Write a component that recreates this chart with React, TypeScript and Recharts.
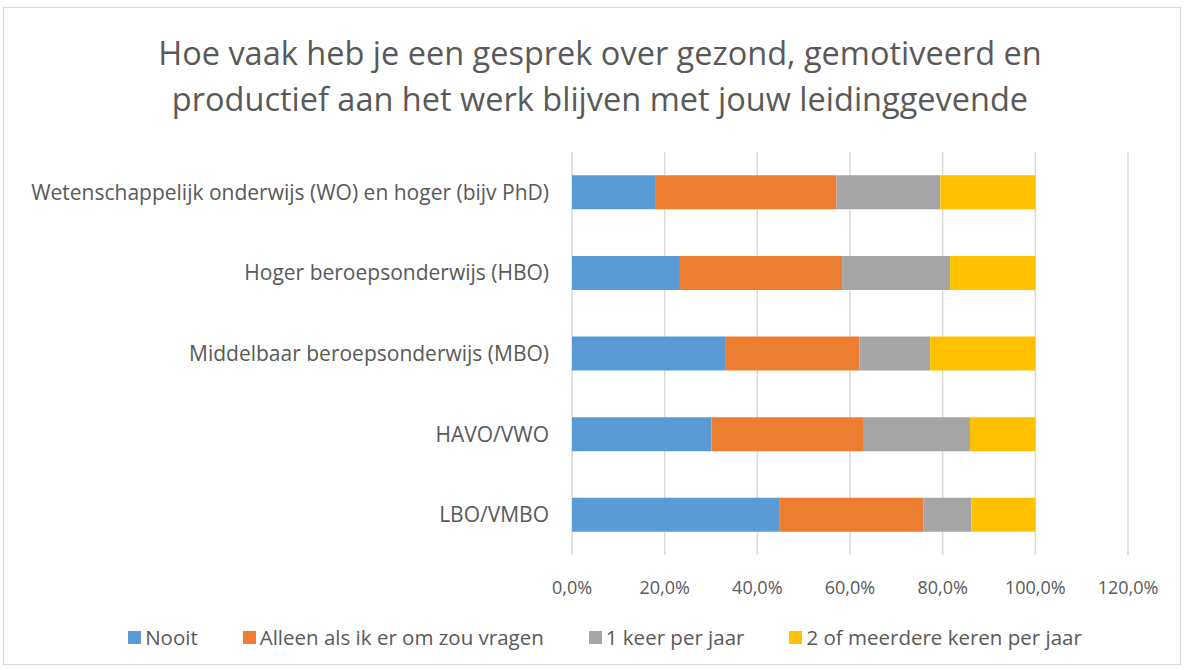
import { BarChart, Bar, XAxis, YAxis, CartesianGrid } from "recharts"

const CATEGORIES = [
  "Wetenschappelijk onderwijs (WO) en hoger (bijv PhD)",
  "Hoger beroepsonderwijs (HBO)",
  "Middelbaar beroepsonderwijs (MBO)",
  "HAVO/VWO",
  "LBO/VMBO",
]

const NOOIT = [0.181, 0.233, 0.332, 0.301, 0.447]
const ALLEEN = [0.39, 0.35, 0.288, 0.327, 0.311]
const KEER1 = [0.224, 0.233, 0.153, 0.231, 0.104]
const KEER2 = [0.205, 0.184, 0.227, 0.141, 0.138]

const X_TICKS = [0, 0.2, 0.4, 0.6, 0.8, 1.0, 1.2]

const SERIES = [
  { key: "nooit", name: "Nooit", values: NOOIT, color: "#5B9BD5" },
  { key: "alleen", name: "Alleen als ik er om zou vragen", values: ALLEEN, color: "#ED7D31" },
  { key: "keer1", name: "1 keer per jaar", values: KEER1, color: "#A5A5A5" },
  { key: "keer2", name: "2 of meerdere keren per jaar", values: KEER2, color: "#FFC000" },
]

const data = CATEGORIES.map((cat, i) => {
  const row: Record<string, string | number> = { cat }
  SERIES.forEach((s) => { row[s.key] = s.values[i] })
  return row
})

const FONT = "'Open Sans', sans-serif"
const TEXT = "#595959"

const pct = (v: number) => `${(v * 100).toFixed(1).replace(".", ",")}%`

export default function App() {
  return (
    <div style={{ position: "absolute", left: 0, top: 0, width: 1186, height: 670, background: "#fff", fontFamily: FONT }}>
      <div style={{
        position: "absolute", left: 3, top: 7, width: 1178, height: 658,
        border: "1px solid #d9d9d9", boxSizing: "border-box",
      }} />
      <div style={{
        position: "absolute", left: 0, top: 30, width: 1200, textAlign: "center",
        fontSize: 32.5, lineHeight: "46px", color: TEXT,
      }}>
        Hoe vaak heb je een gesprek over gezond, gemotiveerd en<br />
        productief aan het werk blijven met jouw leidinggevende
      </div>
      <div style={{ position: "absolute", left: 0, top: 0 }}>
        <BarChart
          width={1186}
          height={670}
          data={data}
          layout="vertical"
          margin={{ top: 152, right: 58, bottom: 85, left: 12 }}
          barCategoryGap="29%"
        >
          <CartesianGrid horizontal={false} stroke="#D9D9D9" strokeWidth={1.5} />
          <XAxis
            type="number"
            domain={[0, 1.2]}
            ticks={X_TICKS}
            tickFormatter={pct}
            axisLine={false}
            tickLine={false}
            tickSize={0}
            tickMargin={26}
            tick={{ fontSize: 18, fill: TEXT, fontFamily: FONT }}
            interval={0}
            height={30}
          />
          <YAxis
            type="category"
            dataKey="cat"
            width={560}
            axisLine={false}
            tickLine={false}
            tickSize={0}
            tickMargin={23}
            tick={{ fontSize: 21, fill: TEXT, fontFamily: FONT }}
            interval={0}
          />
          {SERIES.map((s) => (
            <Bar
              key={s.key}
              dataKey={s.key}
              name={s.name}
              stackId="a"
              fill={s.color}
              isAnimationActive={false}
            />
          ))}
        </BarChart>
      </div>
      <div style={{
        position: "absolute", left: 0, top: 622, width: 1210, display: "flex", justifyContent: "center",
        gap: 45, fontSize: 20.5, color: TEXT, lineHeight: "30px",
      }}>
        {SERIES.map((s) => (
          <div key={s.key} style={{ display: "flex", alignItems: "center", gap: 4 }}>
            <span style={{ width: 13, height: 13, background: s.color, display: "inline-block" }} />
            <span>{s.name}</span>
          </div>
        ))}
      </div>
    </div>
  )
}
